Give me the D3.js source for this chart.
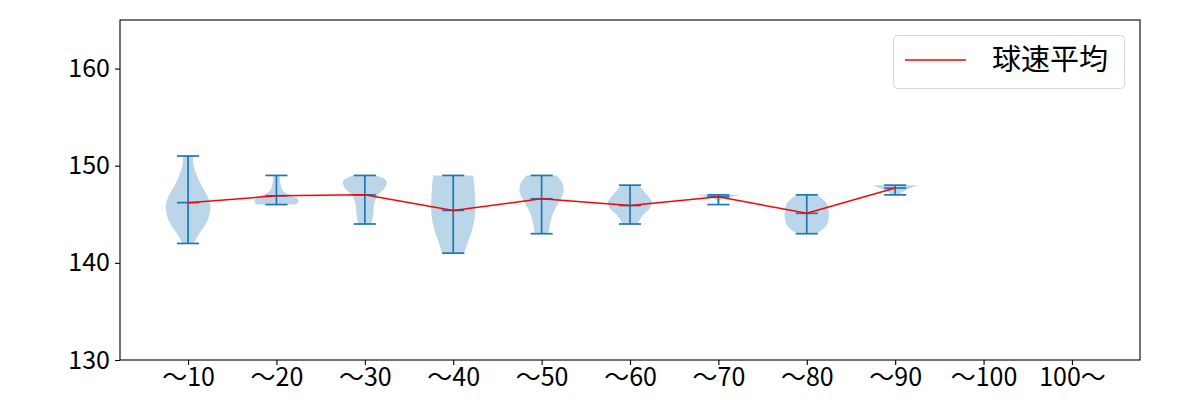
<!DOCTYPE html>
<html>
<head>
<meta charset="utf-8">
<script src="https://cdn.jsdelivr.net/npm/d3@7"></script>
<style>
  body { margin: 0; background: #fff; }
  text { font-family: "Noto Sans CJK JP", "Noto Sans", sans-serif; }
</style>
</head>
<body>
<div id="chart"></div>
<script>
var categories = ["〜10", "〜20", "〜30", "〜40", "〜50", "〜60", "〜70", "〜80", "〜90", "〜100", "100〜"];
var maxs  = [151, 149, 149, 149, 149, 148, 147, 147, 148];
var mins  = [142, 146, 144, 141, 143, 144, 146, 143, 147];
var means = [146.2, 146.9, 147.0, 145.4, 146.6, 145.9, 146.8, 145.1, 147.7];
// violin outline per category: [speed, relative half width]
var profiles = [
  [[142, 0.25], [143, 0.5], [144, 0.8], [145, 0.97], [146, 1.0], [147, 0.85], [148, 0.6], [149, 0.4], [150, 0.26], [151, 0.22]],
  [[146, 0.88], [146.3, 1.0], [146.6, 0.95], [147, 0.6], [147.4, 0.3], [148, 0.2], [148.5, 0.16], [149, 0.15]],
  [[144, 0.3], [145, 0.38], [146, 0.42], [147, 0.6], [147.7, 0.9], [148.3, 1.0], [148.7, 0.85], [149, 0.5]],
  [[141, 0.5], [142, 0.64], [143, 0.8], [144, 0.92], [145, 0.99], [146, 1.0], [147, 0.98], [148, 0.95], [149, 0.9]],
  [[143, 0.32], [144, 0.38], [145, 0.5], [146, 0.72], [147, 0.96], [147.6, 1.0], [148.3, 0.92], [149, 0.68]],
  [[144, 0.34], [144.5, 0.45], [145, 0.62], [145.5, 0.86], [146.2, 1.0], [146.8, 0.85], [147.4, 0.62], [148, 0.42]],
  [[146, 0.03], [146.3, 0.05], [146.6, 0.2], [146.8, 0.6], [147, 1.0]],
  [[143, 0.45], [143.5, 0.75], [144, 0.93], [145, 1.0], [146, 0.93], [146.5, 0.75], [147, 0.45]],
  [[147, 0.15], [147.2, 0.25], [147.5, 0.5], [147.8, 0.8], [148, 1.0]]
];
var yTicks = [130, 140, 150, 160];

var w = 1200, h = 400,
    mLeft = 120, mRight = 1140, mTop = 20, mBottom = 360;

var svg = d3.select("#chart").append("svg")
    .attr("width", w)
    .attr("height", h);

var x = d3.scaleLinear().domain([0.23, 11.77]).range([mLeft, mRight]);
var y = d3.scaleLinear().domain([130, 165]).range([mBottom, mTop]);
var half = x(1.25) - x(1);
var cap = x(1.125) - x(1);

var plot = svg.append("g");

var area = d3.area()
    .y(function(d) { return y(d[0]); })
    .curve(d3.curveCatmullRom);

plot.selectAll("path.violin")
    .data(profiles)
  .enter().append("path")
    .attr("class", "violin")
    .attr("d", function(p, i) {
      return area
        .x0(function(d) { return x(i + 1) - d[1] * half; })
        .x1(function(d) { return x(i + 1) + d[1] * half; })(p);
    })
    .attr("fill", "#1f77b4")
    .attr("fill-opacity", 0.3);

var blue = "#1f77b4";
var g = plot.selectAll("g.bars")
    .data(maxs)
  .enter().append("g")
    .attr("class", "bars");

g.append("line")
    .attr("x1", function(d, i) { return x(i + 1); })
    .attr("x2", function(d, i) { return x(i + 1); })
    .attr("y1", function(d, i) { return y(maxs[i]); })
    .attr("y2", function(d, i) { return y(mins[i]); });
[maxs, mins, means].forEach(function(arr) {
  g.append("line")
      .attr("x1", function(d, i) { return x(i + 1) - cap; })
      .attr("x2", function(d, i) { return x(i + 1) + cap; })
      .attr("y1", function(d, i) { return y(arr[i]); })
      .attr("y2", function(d, i) { return y(arr[i]); });
});
g.selectAll("line").attr("stroke", blue).attr("stroke-width", 1.7);

var line = d3.line()
    .x(function(d, i) { return x(i + 1); })
    .y(function(d) { return y(d); });

plot.append("path")
    .attr("d", line(means))
    .attr("fill", "none")
    .attr("stroke", "red")
    .attr("stroke-width", 1.5);

// axes
var xAxis = d3.axisBottom(x)
    .tickValues(d3.range(1, categories.length + 1))
    .tickFormat(function(d) { return categories[d - 1]; })
    .tickSize(5).tickPadding(3);
var yAxis = d3.axisLeft(y)
    .tickValues(yTicks)
    .tickSize(5).tickPadding(5);

var ax = svg.append("g")
    .attr("transform", "translate(0," + mBottom + ")")
    .call(xAxis);
var ay = svg.append("g")
    .attr("transform", "translate(" + mLeft + ",0)")
    .call(yAxis);
[ax, ay].forEach(function(a) {
  a.select(".domain").remove();
  a.selectAll("line").attr("stroke", "#000").attr("stroke-width", 1.1);
  a.selectAll("text").attr("fill", "#000").style("font-size", "25px");
});

svg.append("rect")
    .attr("x", mLeft).attr("y", mTop)
    .attr("width", mRight - mLeft).attr("height", mBottom - mTop)
    .attr("fill", "none")
    .attr("stroke", "#000")
    .attr("stroke-width", 1.1);

// legend
var lg = svg.append("g");
lg.append("rect")
    .attr("x", 893.5).attr("y", 35.5)
    .attr("width", 231).attr("height", 53)
    .attr("rx", 4)
    .attr("fill", "#fff").attr("fill-opacity", 0.8)
    .attr("stroke", "#d5d5d5");
lg.append("line")
    .attr("x1", 905).attr("x2", 966)
    .attr("y1", 60).attr("y2", 60)
    .attr("stroke", "red").attr("stroke-width", 1.5);
lg.append("text")
    .attr("x", 992).attr("y", 70)
    .style("font-size", "29px")
    .attr("fill", "#000")
    .text("球速平均");
</script>
</body>
</html>
